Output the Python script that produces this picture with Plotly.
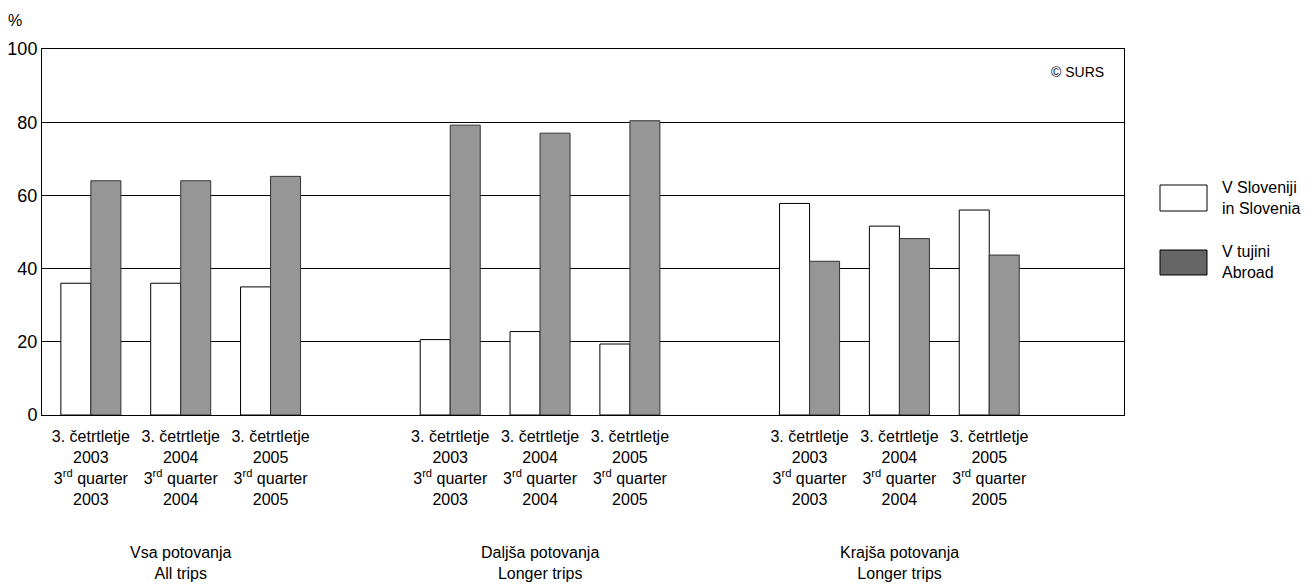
import plotly.graph_objects as go

# ---- data ----
slots = [0, 1, 2, 4, 5, 6, 8, 9, 10]
period_labels = [
    "3. četrtletje<br>2003<br>3<sup>rd</sup> quarter<br>2003",
    "3. četrtletje<br>2004<br>3<sup>rd</sup> quarter<br>2004",
    "3. četrtletje<br>2005<br>3<sup>rd</sup> quarter<br>2005",
] * 3
slovenia = [36, 36, 35, 20.6, 22.8, 19.4, 57.8, 51.6, 56.0]
abroad = [64, 64, 65.2, 79.2, 77.0, 80.4, 42.0, 48.2, 43.7]
group_centers = [1, 5, 9]
group_labels = ["Vsa potovanja<br>All trips",
                "Daljša potovanja<br>Longer trips",
                "Krajša potovanja<br>Longer trips"]
series_names = ["V Sloveniji<br>in Slovenia", "V tujini<br>Abroad"]
y_ticks = [0, 20, 40, 60, 80, 100]

FONT = "Liberation Sans, Arial, sans-serif"
BAR_GRAY = "#969696"
LEG_GRAY = "#666666"

OFF = 8  # page body margin in the browser
W, H = 1314 - OFF, 585 - OFF
L, R, T, B = 42 - OFF, 1124 - OFF, 49 - OFF, 415 - OFF  # plot area in figure pixels

fig = go.Figure()
fig.add_trace(go.Bar(x=slots, y=slovenia, name=series_names[0],
                     marker=dict(color="white", line=dict(color="black", width=1)),
                     showlegend=False))
fig.add_trace(go.Bar(x=slots, y=abroad, name=series_names[1],
                     marker=dict(color=BAR_GRAY, line=dict(color="#333333", width=1)),
                     showlegend=False))

fig.update_layout(
    width=W, height=H,
    margin=dict(l=L, r=W - R, t=T, b=H - B, autoexpand=False),
    paper_bgcolor="white", plot_bgcolor="white",
    barmode="group", bargap=0.332, bargroupgap=0,
    font=dict(family=FONT, color="black"),
)
fig.update_xaxes(
    range=[-0.544, 11.5], tickmode="array", tickvals=slots, ticktext=period_labels,
    showgrid=False, zeroline=False, showline=True, linecolor="black", linewidth=1,
    mirror=True, ticks="", tickfont=dict(size=16, family=FONT), tickangle=0,
    automargin=False, ticklabelstandoff=7,
)
fig.update_yaxes(
    range=[0, 100], tickmode="array", tickvals=y_ticks,
    showgrid=True, gridcolor="black", gridwidth=1, zeroline=False,
    showline=True, linecolor="black", linewidth=1, mirror=True, ticks="",
    tickfont=dict(size=18, family=FONT), automargin=False,
)

# helpers: screenshot pixel -> paper fraction
def px_x(px):
    return (px - OFF - L) / (R - L)

def px_y(py):
    return (B - (py - OFF)) / (B - T)

# group labels
for gc, gl in zip(group_centers, group_labels):
    fig.add_annotation(x=gc, xref="x", y=px_y(542), yref="paper", text=gl,
                       showarrow=False, yanchor="top", xanchor="center",
                       font=dict(size=16, family=FONT))

# % label and copyright
fig.add_annotation(x=px_x(15), xref="paper", y=px_y(20), yref="paper", text="%",
                   showarrow=False, xanchor="center", yanchor="middle",
                   font=dict(size=16, family=FONT))
fig.add_annotation(x=px_x(1106), xref="paper", y=px_y(72), yref="paper", text="© SURS",
                   showarrow=False, xanchor="right", yanchor="middle",
                   font=dict(size=14, family=FONT))

# custom legend (paper coords)
legend_items = [(185, 211, "white", series_names[0]), (250, 275, LEG_GRAY, series_names[1])]
for y0, y1, col, name in legend_items:
    fig.add_shape(type="rect", xref="paper", yref="paper",
                  x0=px_x(1160), x1=px_x(1207), y0=px_y(y1), y1=px_y(y0),
                  fillcolor=col, line=dict(color="black", width=1))
    fig.add_annotation(x=px_x(1220), xref="paper", y=px_y((y0 + y1) / 2), yref="paper",
                       text=name, showarrow=False, xanchor="left", yanchor="middle",
                       align="left", font=dict(size=16, family=FONT))

fig.write_html("out.html")
